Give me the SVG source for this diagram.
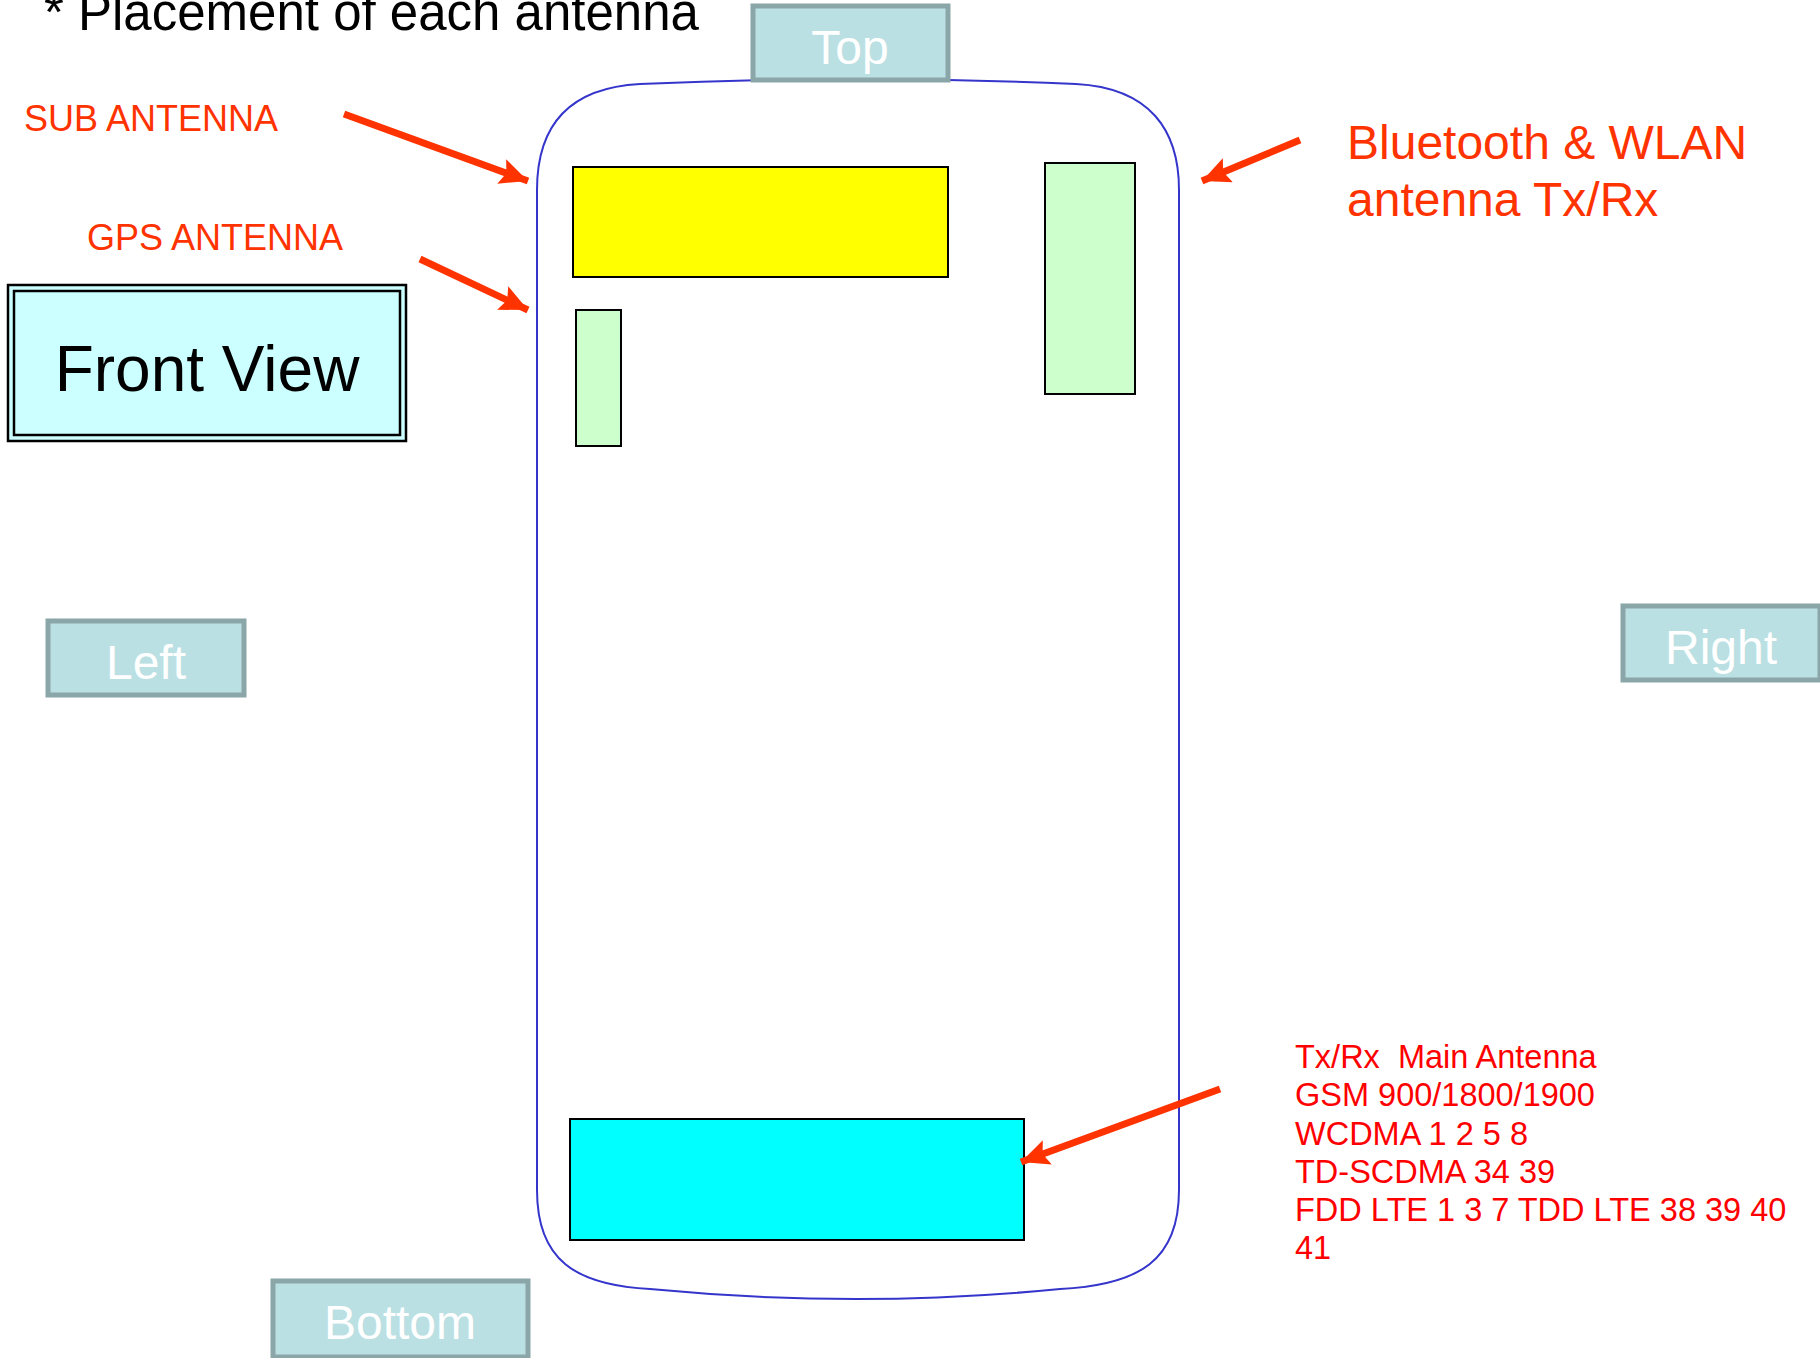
<svg xmlns="http://www.w3.org/2000/svg" width="1820" height="1358" viewBox="0 0 1820 1358">
<style>
.tab{fill:#BBE0E3;stroke:#8BA6A8;stroke-width:5}
.tabt{font-family:"Liberation Sans",Arial,sans-serif;font-size:48px;fill:#FFFFFF;text-anchor:middle}
.ant{stroke:#000;stroke-width:2}
.lbl{font-family:"Liberation Sans",Arial,sans-serif;fill:#FF3300}
.main{font-family:"Liberation Sans",Arial,sans-serif;font-size:32.5px;fill:#FF0000}
.arr{stroke:#FF3300;stroke-width:7;fill:none;marker-end:url(#ah)}
</style>
<defs>
<marker id="ah" markerUnits="userSpaceOnUse" markerWidth="30" markerHeight="26" refX="28" refY="13" orient="auto">
<path d="M0,0 L28,13 L0,26 L5,13 Z" fill="#FF3300"/>
</marker>
</defs>
<rect width="1820" height="1358" fill="#FFFFFF"/>
<text x="44" y="30" font-family="Liberation Sans,Arial,sans-serif" font-size="51" fill="#000">* Placement of each antenna</text>
<g id="phone">
<path d="M640 84 Q858 74 1076 84 C1150 88 1179 130 1179 190 L1179 1190 C1179 1260 1140 1285 1060 1289 Q858 1309 650 1289 C575 1285 537 1260 537 1190 L537 190 C537 130 565 88 640 84 Z" fill="none" stroke="#3535CC" stroke-width="2"/>
</g>
<g id="top"><rect class="tab" x="753" y="6" width="195" height="74"/><text class="tabt" x="850" y="64">Top</text></g>
<g id="left"><rect class="tab" x="48" y="621" width="196" height="74"/><text class="tabt" x="146" y="679">Left</text></g>
<g id="right"><rect class="tab" x="1623" y="606" width="197" height="74"/><text class="tabt" x="1721" y="664">Right</text></g>
<g id="bottom"><rect class="tab" x="273" y="1281" width="255" height="76"/><text class="tabt" x="400" y="1339">Bottom</text></g>
<g id="frontview">
<rect x="8" y="285" width="398" height="156" fill="#CCFFFF" stroke="#000" stroke-width="2.5"/>
<rect x="14" y="291" width="386" height="144" fill="none" stroke="#000" stroke-width="2.5"/>
<text x="207" y="391" font-family="Liberation Sans,Arial,sans-serif" font-size="64" fill="#000" text-anchor="middle">Front View</text>
</g>
<g id="sub-antenna"><rect class="ant" x="573" y="167" width="375" height="110" fill="#FFFF00"/></g>
<g id="gps-antenna"><rect class="ant" x="576" y="310" width="45" height="136" fill="#CCFFCC"/></g>
<g id="bt-antenna"><rect class="ant" x="1045" y="163" width="90" height="231" fill="#CCFFCC"/></g>
<g id="main-antenna"><rect class="ant" x="570" y="1119" width="454" height="121" fill="#00FFFF"/></g>
<g id="labels">
<text class="lbl" x="24" y="131" font-size="36">SUB ANTENNA</text>
<text class="lbl" x="87" y="250" font-size="36">GPS ANTENNA</text>
<text class="lbl" x="1347" y="159" font-size="48">Bluetooth &amp; WLAN</text>
<text class="lbl" x="1347" y="216" font-size="48">antenna Tx/Rx</text>
<text class="main" x="1295" y="1068" xml:space="preserve">Tx/Rx  Main Antenna</text>
<text class="main" x="1295" y="1106">GSM 900/1800/1900</text>
<text class="main" x="1295" y="1145">WCDMA 1 2 5 8</text>
<text class="main" x="1295" y="1183">TD-SCDMA 34 39</text>
<text class="main" x="1295" y="1221">FDD LTE 1 3 7 TDD LTE 38 39 40</text>
<text class="main" x="1295" y="1259">41</text>
</g>
<g id="connectors">
<line class="arr" x1="344" y1="114" x2="528" y2="181"/>
<line class="arr" x1="420" y1="259" x2="528" y2="310"/>
<line class="arr" x1="1300" y1="140" x2="1202" y2="181"/>
<line class="arr" x1="1220" y1="1089" x2="1021" y2="1162"/>
</g>
</svg>
